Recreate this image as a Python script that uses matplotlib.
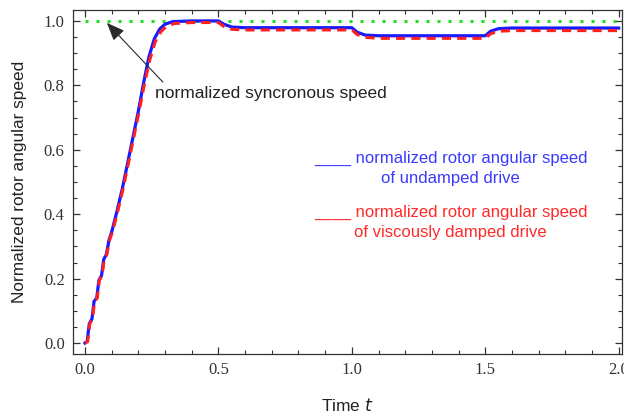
import numpy as np
from matplotlib import pyplot as plt
from matplotlib.ticker import MultipleLocator

# time samples and normalized rotor speeds
t = [0.0, 0.008, 0.016, 0.026, 0.034, 0.044, 0.052, 0.062, 0.070, 0.080,
     0.090, 0.100, 0.120, 0.140, 0.160, 0.180, 0.200, 0.220, 0.240, 0.260,
     0.280, 0.300, 0.330, 0.400, 0.500, 0.520, 0.550, 0.600, 1.000, 1.020,
     1.050, 1.100, 1.500, 1.520, 1.550, 1.600, 2.000]
w_undamped = [0.0, 0.005, 0.060, 0.075, 0.130, 0.140, 0.195, 0.210, 0.260, 0.275,
              0.320, 0.345, 0.410, 0.480, 0.560, 0.640, 0.720, 0.810, 0.890, 0.945,
              0.975, 0.990, 0.998, 1.000, 1.000, 0.990, 0.981, 0.979, 0.979, 0.965,
              0.956, 0.954, 0.954, 0.968, 0.976, 0.978, 0.978]
t_damped = [0.0, 0.010, 0.018, 0.028, 0.036, 0.046, 0.054, 0.064, 0.072, 0.082,
            0.092, 0.103, 0.123, 0.143, 0.163, 0.183, 0.203, 0.223, 0.243, 0.263,
            0.283, 0.303, 0.333, 0.400, 0.500, 0.520, 0.550, 0.600, 1.000, 1.020,
            1.050, 1.100, 1.500, 1.520, 1.550, 1.600, 2.000]
w_damped = [0.0, 0.005, 0.060, 0.075, 0.130, 0.140, 0.195, 0.210, 0.260, 0.275,
            0.320, 0.345, 0.410, 0.480, 0.560, 0.640, 0.720, 0.805, 0.880, 0.935,
            0.965, 0.982, 0.992, 0.995, 0.995, 0.983, 0.974, 0.972, 0.972, 0.958,
            0.949, 0.946, 0.946, 0.960, 0.968, 0.970, 0.970]
t_sync = [0.0, 2.0]
w_sync = [1.0, 1.0]

sans = ['Liberation Sans', 'DejaVu Sans']
serif = ['Liberation Serif', 'DejaVu Serif']

fig = plt.figure(figsize=(6.24, 4.16), dpi=100)
ax = fig.add_axes([0.117, 0.149, 0.88, 0.827])

ax.plot(t_sync, w_sync, color='#22dd22', lw=2.2, ls=(0, (1, 2.6)))
ax.plot(t, w_undamped, color='#1a1aff', lw=2.3)
ax.plot(t_damped, w_damped, color='#ff2020', lw=2.2, ls=(0, (3, 2)))

# annotation: arrow and its label
ax.annotate('', xy=(0.082, 0.994), xytext=(0.292, 0.81),
            arrowprops=dict(arrowstyle='-|>,head_length=1.1,head_width=0.45',
                            color='#2a2a2a', lw=0.8, shrinkA=0, shrinkB=0))
ax.text(0.262, 0.776, 'normalized syncronous speed', fontsize=12.5, family=sans,
        color='#222222', va='center', ha='left')

ax.text(0.688, 0.54, '____ normalized rotor angular speed\nof undamped drive',
        transform=ax.transAxes, ha='center', va='center', multialignment='center',
        color='#3a3aff', fontsize=12, family=sans, linespacing=1.4)
ax.text(0.688, 0.383, '____ normalized rotor angular speed\nof viscously damped drive',
        transform=ax.transAxes, ha='center', va='center', multialignment='center',
        color='#ff2a2a', fontsize=12, family=sans, linespacing=1.4)

ax.set_xlim(-0.045, 2.013)
ax.set_ylim(-0.034, 1.034)
ax.xaxis.set_minor_locator(MultipleLocator(0.1))
ax.yaxis.set_minor_locator(MultipleLocator(0.05))
ax.set_xticks([0, 0.5, 1.0, 1.5, 2.0])
ax.set_xticklabels(['0.0', '0.5', '1.0', '1.5', '2.0'])
ax.set_yticks([0, 0.2, 0.4, 0.6, 0.8, 1.0])
ax.set_yticklabels(['0.0', '0.2', '0.4', '0.6', '0.8', '1.0'])
ax.tick_params(which='both', direction='in', top=True, right=True, color='#333333')
ax.tick_params(which='major', length=5, width=0.9, labelsize=12, pad=6)
ax.tick_params(which='minor', length=3, width=0.8)
for lab in ax.get_xticklabels() + ax.get_yticklabels():
    lab.set_family(serif)
    lab.set_color('#333333')
for s in ax.spines.values():
    s.set_color('#333333')
    s.set_linewidth(0.9)

ax.set_xlabel('Time $\\it{t}$', fontsize=12.5, family=sans, color='#222222')
ax.xaxis.set_label_coords(0.5, -0.125)
ax.set_ylabel('Normalized rotor angular speed', fontsize=12.4, family=sans, color='#222222')
ax.yaxis.set_label_coords(-0.084, 0.5)

fig.savefig('out.png', dpi=100)
